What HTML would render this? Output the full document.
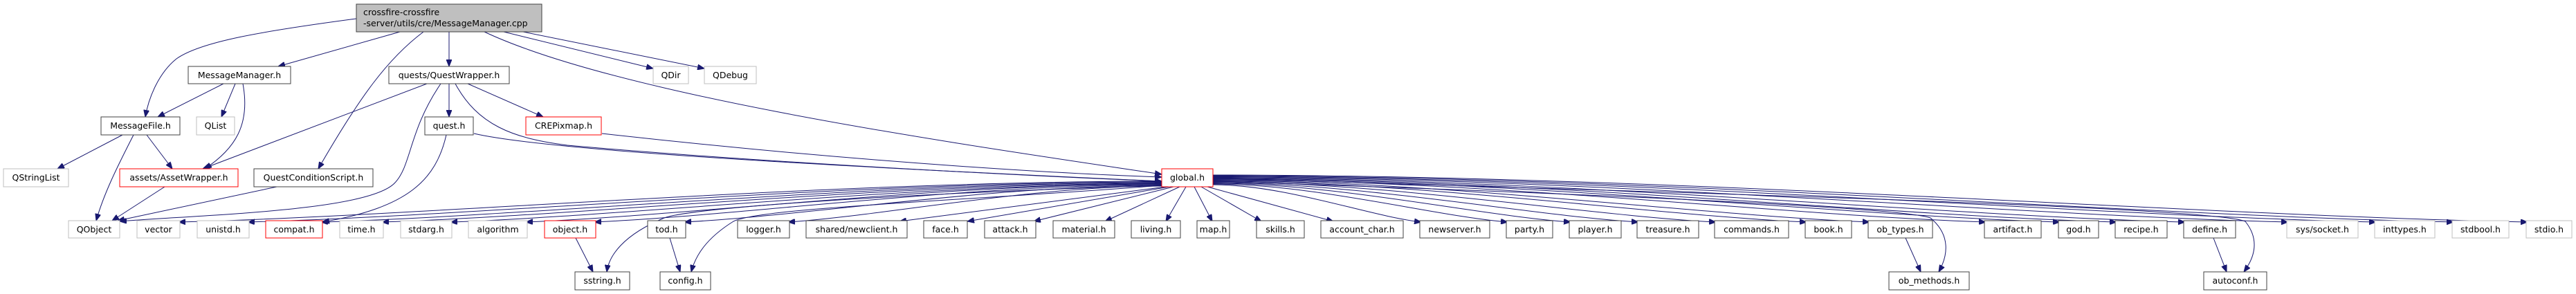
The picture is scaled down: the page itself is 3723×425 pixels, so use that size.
<!DOCTYPE html>
<html><head><meta charset="utf-8"><style>
html,body{margin:0;padding:0;background:#fff;}
svg{display:block;}
text{font-family:"DejaVu Sans","Liberation Sans",sans-serif;font-size:12.5px;fill:#000;text-anchor:middle;}
.k{fill:#fff;stroke:#404040;stroke-width:1;}
.g{fill:#fff;stroke:#bfbfbf;stroke-width:1;}
.r{fill:#fff;stroke:#ff0000;stroke-width:1;}
.e{fill:none;stroke:#191970;stroke-width:1;}
</style></head><body>
<svg width="3723" height="425" viewBox="0 0 3723 425" xmlns="http://www.w3.org/2000/svg">
<defs><marker id="a" markerWidth="10" markerHeight="8" refX="10" refY="4" orient="auto" markerUnits="userSpaceOnUse"><path d="M0,0 L10,4 L0,8 z" fill="#191970" stroke="#191970"/></marker></defs>
<g class="e" marker-end="url(#a)">
<path class="e" marker-end="url(#a)" d="M515,27 C380,45 290,60 255,85 C230,105 215,140 210,169"/>
<path class="e" marker-end="url(#a)" d="M578,46 L402,96"/>
<path class="e" marker-end="url(#a)" d="M612,46 C560,85 520,140 460,244"/>
<path class="e" marker-end="url(#a)" d="M649,46 L649,96"/>
<path class="e" marker-end="url(#a)" d="M700,46 C900,140 1400,210 1679,252"/>
<path class="e" marker-end="url(#a)" d="M728,46 L944,99"/>
<path class="e" marker-end="url(#a)" d="M756,46 L1018,99"/>
<path class="e" marker-end="url(#a)" d="M323,121 L228,169"/>
<path class="e" marker-end="url(#a)" d="M340,121 L320,169"/>
<path class="e" marker-end="url(#a)" d="M351,121 C362,180 340,215 296,244"/>
<path class="e" marker-end="url(#a)" d="M177,195 L83,244"/>
<path class="e" marker-end="url(#a)" d="M193,195 C170,240 150,280 139,319"/>
<path class="e" marker-end="url(#a)" d="M212,195 L249,244"/>
<path class="e" marker-end="url(#a)" d="M238,270 L162,319"/>
<path class="e" marker-end="url(#a)" d="M400,270 L170,319"/>
<path class="e" marker-end="url(#a)" d="M617,121 L293,244"/>
<path class="e" marker-end="url(#a)" d="M637,121 C590,190 595,240 570,265 C530,305 300,310 173,320"/>
<path class="e" marker-end="url(#a)" d="M649,121 L649,169"/>
<path class="e" marker-end="url(#a)" d="M658,121 C690,180 740,200 820,210 C1100,235 1500,255 1679,262"/>
<path class="e" marker-end="url(#a)" d="M676,121 L785,169"/>
<path class="e" marker-end="url(#a)" d="M645,195 C630,260 590,300 466,321"/>
<path class="e" marker-end="url(#a)" d="M685,193 C800,220 1300,245 1679,262"/>
<path class="e" marker-end="url(#a)" d="M870,193 C1200,230 1500,250 1679,256"/>
<path class="e" marker-end="url(#a)" d="M1679,262 C1182,262 615,312 258,321"/>
<path class="e" marker-end="url(#a)" d="M1679,263 C1217,263 690,312 358,321"/>
<path class="e" marker-end="url(#a)" d="M1679,264 C1254,264 769,312 464,321"/>
<path class="e" marker-end="url(#a)" d="M1679,265 C1285,265 835,312 552,321"/>
<path class="e" marker-end="url(#a)" d="M1679,266 C1320,266 910,312 651,321"/>
<path class="e" marker-end="url(#a)" d="M1679,266 C1358,266 991,312 760,321"/>
<path class="e" marker-end="url(#a)" d="M1679,267 C1393,267 1066,312 859,321"/>
<path class="e" marker-end="url(#a)" d="M1679,268 C1438,268 1163,312 989,321"/>
<path class="e" marker-end="url(#a)" d="M1679,269 C1491,269 1275,312 1139,321"/>
<path class="e" marker-end="url(#a)" d="M1685,270 L1300,320"/>
<path class="e" marker-end="url(#a)" d="M1690,270 L1398,320"/>
<path class="e" marker-end="url(#a)" d="M1696,270 L1494,320"/>
<path class="e" marker-end="url(#a)" d="M1705,270 L1597,320"/>
<path class="e" marker-end="url(#a)" d="M1714,270 L1685,320"/>
<path class="e" marker-end="url(#a)" d="M1726,270 L1752,320"/>
<path class="e" marker-end="url(#a)" d="M1736,270 L1823,320"/>
<path class="e" marker-end="url(#a)" d="M1745,270 L1927,320"/>
<path class="e" marker-end="url(#a)" d="M1753,267 C1858,267 1977,312 2054,321"/>
<path class="e" marker-end="url(#a)" d="M1753,266 C1901,266 2071,312 2179,321"/>
<path class="e" marker-end="url(#a)" d="M1753,265 C1933,265 2139,312 2270,321"/>
<path class="e" marker-end="url(#a)" d="M1753,264 C1968,264 2213,312 2368,321"/>
<path class="e" marker-end="url(#a)" d="M1753,263 C2007,263 2297,312 2480,321"/>
<path class="e" marker-end="url(#a)" d="M1753,262 C2053,262 2395,312 2611,321"/>
<path class="e" marker-end="url(#a)" d="M1753,261 C2084,261 2463,312 2702,321"/>
<path class="e" marker-end="url(#a)" d="M1753,260 C2143,260 2589,312 2870,321"/>
<path class="e" marker-end="url(#a)" d="M1753,259 C2181,259 2670,312 2977,321"/>
<path class="e" marker-end="url(#a)" d="M1753,258 C2209,258 2731,312 3059,321"/>
<path class="e" marker-end="url(#a)" d="M1753,257 C2244,257 2805,312 3158,321"/>
<path class="e" marker-end="url(#a)" d="M1753,256 C2296,256 2917,312 3307,321"/>
<path class="e" marker-end="url(#a)" d="M1753,255 C2341,255 3012,312 3434,321"/>
<path class="e" marker-end="url(#a)" d="M1753,254 C2380,254 3096,312 3546,321"/>
<path class="e" marker-end="url(#a)" d="M1753,253 C2417,253 3176,312 3653,321"/>
<path class="e" marker-end="url(#a)" d="M1679,268 C1300,280 1000,300 960,315 C900,340 880,370 877,393"/>
<path class="e" marker-end="url(#a)" d="M1679,268 C1400,290 1100,300 1060,320 C1020,345 1005,370 999,393"/>
<path class="e" marker-end="url(#a)" d="M1753,262 C2300,280 2750,300 2790,315 C2820,340 2815,370 2802,393"/>
<path class="e" marker-end="url(#a)" d="M1753,258 C2500,280 3200,300 3245,320 C3265,345 3260,370 3243,393"/>
<path class="e" marker-end="url(#a)" d="M968,344 L983,393"/>
<path class="e" marker-end="url(#a)" d="M832,344 L857,393"/>
<path class="e" marker-end="url(#a)" d="M2754,344 L2776,393"/>
<path class="e" marker-end="url(#a)" d="M3199,344 L3218,393"/>
</g>
<rect x="515" y="6" width="268" height="40" fill="#bfbfbf" stroke="#404040"/>
<text x="525" y="22" style="text-anchor:start">crossfire-crossfire</text>
<text x="525" y="38" style="text-anchor:start">-server/utils/cre/MessageManager.cpp</text>
<rect class="k" x="272" y="96" width="148" height="25"/><text x="346" y="113">MessageManager.h</text>
<rect class="k" x="562" y="96" width="174" height="25"/><text x="649" y="113">quests/QuestWrapper.h</text>
<rect class="g" x="944" y="96" width="51" height="25"/><text x="969.5" y="113">QDir</text>
<rect class="g" x="1018" y="96" width="75" height="25"/><text x="1055.5" y="113">QDebug</text>
<rect class="k" x="146" y="169" width="114" height="26"/><text x="203" y="186">MessageFile.h</text>
<rect class="g" x="284" y="169" width="55" height="26"/><text x="311.5" y="186">QList</text>
<rect class="k" x="614" y="169" width="70" height="26"/><text x="649" y="186">quest.h</text>
<rect class="r" x="760" y="169" width="109" height="26"/><text x="814.5" y="186">CREPixmap.h</text>
<rect class="g" x="5" y="244" width="94" height="26"/><text x="52" y="261">QStringList</text>
<rect class="r" x="173" y="244" width="171" height="26"/><text x="258.5" y="261">assets/AssetWrapper.h</text>
<rect class="k" x="367" y="244" width="172" height="26"/><text x="453" y="261">QuestConditionScript.h</text>
<rect class="r" x="1679" y="244" width="74" height="26"/><text x="1716" y="261">global.h</text>
<rect class="g" x="99" y="319" width="74" height="25"/><text x="136" y="336">QObject</text>
<rect class="g" x="198" y="319" width="62" height="25"/><text x="229" y="336">vector</text>
<rect class="g" x="285" y="319" width="75" height="25"/><text x="322.5" y="336">unistd.h</text>
<rect class="r" x="384" y="319" width="82" height="25"/><text x="425" y="336">compat.h</text>
<rect class="g" x="491" y="319" width="63" height="25"/><text x="522.5" y="336">time.h</text>
<rect class="g" x="579" y="319" width="74" height="25"/><text x="616" y="336">stdarg.h</text>
<rect class="g" x="677" y="319" width="85" height="25"/><text x="719.5" y="336">algorithm</text>
<rect class="r" x="787" y="319" width="74" height="25"/><text x="824" y="336">object.h</text>
<rect class="k" x="936" y="319" width="55" height="25"/><text x="963.5" y="336">tod.h</text>
<rect class="k" x="1066" y="319" width="75" height="25"/><text x="1103.5" y="336">logger.h</text>
<rect class="k" x="1165" y="319" width="146" height="25"/><text x="1238" y="336">shared/newclient.h</text>
<rect class="k" x="1335" y="319" width="63" height="25"/><text x="1366.5" y="336">face.h</text>
<rect class="k" x="1423" y="319" width="74" height="25"/><text x="1460" y="336">attack.h</text>
<rect class="k" x="1522" y="319" width="89" height="25"/><text x="1566.5" y="336">material.h</text>
<rect class="k" x="1635" y="319" width="71" height="25"/><text x="1670.5" y="336">living.h</text>
<rect class="k" x="1730" y="319" width="47" height="25"/><text x="1753.5" y="336">map.h</text>
<rect class="k" x="1816" y="319" width="69" height="25"/><text x="1850.5" y="336">skills.h</text>
<rect class="k" x="1909" y="319" width="119" height="25"/><text x="1968.5" y="336">account_char.h</text>
<rect class="k" x="2052" y="319" width="101" height="25"/><text x="2102.5" y="336">newserver.h</text>
<rect class="k" x="2177" y="319" width="67" height="25"/><text x="2210.5" y="336">party.h</text>
<rect class="k" x="2268" y="319" width="75" height="25"/><text x="2305.5" y="336">player.h</text>
<rect class="k" x="2366" y="319" width="89" height="25"/><text x="2410.5" y="336">treasure.h</text>
<rect class="k" x="2478" y="319" width="107" height="25"/><text x="2531.5" y="336">commands.h</text>
<rect class="k" x="2609" y="319" width="67" height="25"/><text x="2642.5" y="336">book.h</text>
<rect class="k" x="2700" y="319" width="93" height="25"/><text x="2746.5" y="336">ob_types.h</text>
<rect class="k" x="2868" y="319" width="82" height="25"/><text x="2909" y="336">artifact.h</text>
<rect class="k" x="2975" y="319" width="58" height="25"/><text x="3004" y="336">god.h</text>
<rect class="k" x="3057" y="319" width="75" height="25"/><text x="3094.5" y="336">recipe.h</text>
<rect class="k" x="3156" y="319" width="75" height="25"/><text x="3193.5" y="336">define.h</text>
<rect class="g" x="3305" y="319" width="103" height="25"/><text x="3356.5" y="336">sys/socket.h</text>
<rect class="g" x="3432" y="319" width="87" height="25"/><text x="3475.5" y="336">inttypes.h</text>
<rect class="g" x="3544" y="319" width="82" height="25"/><text x="3585" y="336">stdbool.h</text>
<rect class="g" x="3651" y="319" width="66" height="25"/><text x="3684" y="336">stdio.h</text>
<rect class="k" x="831" y="393" width="79" height="26"/><text x="870.5" y="410">sstring.h</text>
<rect class="k" x="954" y="393" width="73" height="26"/><text x="990.5" y="410">config.h</text>
<rect class="k" x="2730" y="393" width="116" height="26"/><text x="2788" y="410">ob_methods.h</text>
<rect class="k" x="3185" y="393" width="91" height="26"/><text x="3230.5" y="410">autoconf.h</text>
</svg>
</body></html>
